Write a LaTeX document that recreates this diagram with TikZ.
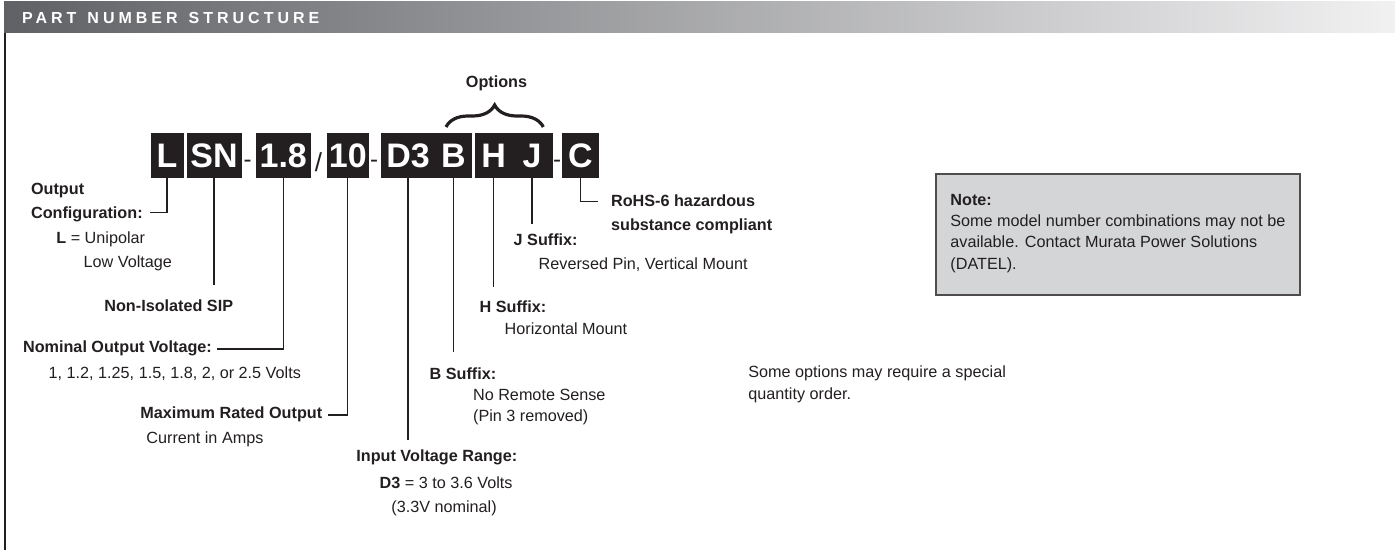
\documentclass[tikz,border=0pt]{standalone}
\usepackage{fontspec}
\setmainfont{Liberation Sans}
\usepackage{xcolor}
\usepackage{tikz}
\usetikzlibrary{decorations.pathreplacing}

\definecolor{ink}{RGB}{35,31,32}
\definecolor{notegray}{RGB}{212,213,215}
\definecolor{barleft}{RGB}{96,97,101}
\definecolor{barright}{RGB}{241,241,242}

\tikzset{
  code/.style={fill=ink, draw=ink, line width=0.3pt, text=white, inner sep=0pt,
    minimum height=22pt, text height=12.2pt, text depth=0pt,
    font=\fontsize{17}{20}\selectfont\bfseries},
  sepmark/.style={anchor=base, inner sep=0pt, text=ink},
  lbl/.style={anchor=base west, inner sep=0pt, text=ink, font=\fontsize{8.1}{9.7}\selectfont},
  bl/.style={lbl, font=\fontsize{8.1}{9.7}\selectfont\bfseries},
  lead/.style={draw=ink, line width=0.65pt},
  optbrace/.style={draw=ink, line width=1.6pt, decorate, decoration={brace, amplitude=11pt}}
}

\begin{document}
\begin{tikzpicture}[x=0.5pt,y=-0.5pt]
\useasboundingbox (0,0) rectangle (1395,550);

\shade[left color=barleft, right color=barright] (4,2) rectangle (1395,33);
\node[anchor=base west, inner sep=0pt, text=white,
  font=\fontsize{8}{9.6}\selectfont\bfseries\addfontfeatures{LetterSpace=25}] (title) at (21.7,24)
  {PART\hspace*{5.5pt}NUMBER\hspace*{5.5pt}STRUCTURE};
\draw[ink, line width=0.6pt] (5,33) -- (5,550);

\node[code, minimum width=16pt] (codeL) at (167,155) {L};
\node[code, minimum width=27pt] (codeSN) at (214,155) {SN};
\node[sepmark, font=\fontsize{12}{14}\selectfont] (dashA) at (247.5,167.5) {-};
\node[code, minimum width=27.25pt] (code18) at (283.25,155) {1.8};
\node[sepmark, font=\fontsize{13}{15}\selectfont] (slash) at (318.5,171.3) {/};
\node[code, minimum width=20.25pt] (code10) at (347.75,155) {10};
\node[sepmark, font=\fontsize{12}{14}\selectfont] (dashB) at (374,167.5) {-};
\node[code, minimum width=27pt] (codeD) at (408,155) {D3};
\node[code, minimum width=18.35pt] (codeB) at (453.35,155) {B};
\node[code, minimum width=17.9pt] (codeH) at (493.6,155) {H};
\node[code, minimum width=20.5pt] (codeJ) at (532,155) {J};
\node[sepmark, font=\fontsize{12}{14}\selectfont] (dashC) at (557,167.5) {-};
\node[code, minimum width=18pt] (codeC) at (580.3,155) {C};

\draw[optbrace] (446,127) -- (543.3,127);
\node[bl, anchor=base] (opts) at (496.5,88) {Options};

\coordinate (cfgend) at (150,212.7);
\coordinate (snend) at (212.7,285);
\coordinate (voutend) at (216.7,349);
\coordinate (ioutend) at (328.3,415);
\coordinate (vinend) at (407.3,440);
\coordinate (bend) at (454,351.7);
\coordinate (hend) at (493.3,286.7);
\coordinate (jend) at (532.3,224.3);
\coordinate (rohsend) at (598.3,201.7);

\draw[lead] (codeL.south) |- (cfgend);
\draw[lead] (codeSN.south) -- (codeSN.south |- snend);
\draw[lead] (code18.south) |- (voutend);
\draw[lead] (code10.south) |- (ioutend);
\draw[lead] (codeD.south) -- (codeD.south |- vinend);
\draw[lead] (codeB.south) -- (codeB.south |- bend);
\draw[lead] (codeH.south) -- (codeH.south |- hend);
\draw[lead] (codeJ.south) -- (codeJ.south |- jend);
\draw[lead] (codeC.south) |- (rohsend);

\node[bl] (outcfg) at (30.7,195) {Output};
\node[bl] (outcfgB) at (30.7,219) {Configuration:};
\node[lbl] (outL) at (56,244) {\textbf{L} = Unipolar};
\node[lbl] (outLV) at (83.3,268) {Low Voltage};
\node[bl] (nisip) at (104,312) {Non-Isolated SIP};
\node[bl] (vout) at (22.7,352) {Nominal Output Voltage:};
\node[lbl] (voutlist) at (48.3,378) {1, 1.2, 1.25, 1.5, 1.8, 2, or 2.5 Volts};
\node[bl] (iout) at (140,418.5) {Maximum Rated Output};
\node[lbl] (ioutB) at (146,443.4) {Current in Amps};
\node[bl] (vin) at (356,461.7) {Input Voltage Range:};
\node[lbl] (vinB) at (379.3,488.4) {\textbf{D3} = 3 to 3.6 Volts};
\node[lbl] (vinC) at (391,512) {(3.3V nominal)};
\node[bl] (bsuf) at (429.3,379.3) {B Suffix:};
\node[lbl] (bsufB) at (472.7,400) {No Remote Sense};
\node[lbl] (bsufC) at (472.7,421.7) {(Pin 3 removed)};
\node[bl] (hsuf) at (479.3,312.5) {H Suffix:};
\node[lbl] (hsufB) at (504.3,335) {Horizontal Mount};
\node[bl] (jsuf) at (513.3,245.5) {J Suffix:};
\node[lbl] (jsufB) at (538.3,270) {Reversed Pin, Vertical Mount};
\node[bl] (rohs) at (610.7,206.7) {RoHS-6 hazardous};
\node[bl] (rohsB) at (610.7,230.5) {substance compliant};

\filldraw[fill=notegray, draw=ink!80, line width=0.6pt] (936,174) rectangle (1300,295);
\node[bl] (notehd) at (950,206) {Note:};
\node[lbl] (noteA) at (950,226.5) {Some model number combinations may not be};
\node[lbl] (noteB) at (950,248) {available. Contact Murata Power Solutions};
\node[lbl] (noteC) at (950,269.5) {(DATEL).};

\node[lbl] (optnoteA) at (748,377.3) {Some options may require a special};
\node[lbl] (optnoteB) at (748,399.5) {quantity order.};

\end{tikzpicture}
\end{document}
